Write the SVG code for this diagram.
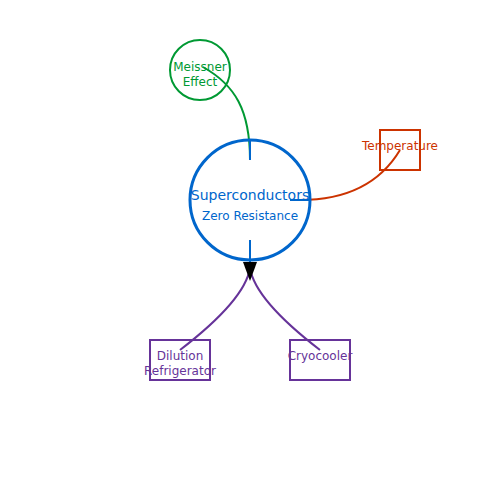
<svg xmlns="http://www.w3.org/2000/svg" width="500" height="500" viewBox="0 0 500 500">
<style>
text{font-family:"DejaVu Sans",sans-serif;text-anchor:middle;font-size:12px}
.c{fill:none;stroke-width:2}
</style>
<rect width="500" height="500" fill="#fff"/>
<g id="connectors" fill="none" stroke-width="2">
<path d="M203,67 C235,85 250,110 250,160" stroke="#009933"/>
<path d="M400,150 Q370,200 300,200" stroke="#cc3300"/>
<path d="M180,350 Q245,300 250,268" stroke="#663399"/>
<path d="M320,350 Q255,300 250,268" stroke="#663399"/>
<path d="M250,140 V160 M250,240 V262 M290,200 H310" stroke="#0066cc"/>
<polygon points="243,262 257,262 250,281" fill="#000" stroke="none"/>
</g>
<g id="superconductors">
<circle cx="250" cy="200" r="60" fill="none" stroke="#0066cc" stroke-width="3"/>
<text x="250" y="200" font-size="14" fill="#0066cc" style="font-size:14px">Superconductors</text>
<text x="250" y="220" fill="#0066cc">Zero Resistance</text>
</g>
<g id="meissner">
<circle cx="200" cy="70" r="30" class="c" stroke="#009933"/>
<text x="200" y="71" fill="#009933">Meissner</text>
<text x="200" y="86" fill="#009933">Effect</text>
</g>
<g id="temperature">
<rect x="380" y="130" width="40" height="40" class="c" stroke="#cc3300"/>
<text x="400" y="150" fill="#cc3300">Temperature</text>
</g>
<g id="dilution">
<rect x="150" y="340" width="60" height="40" class="c" stroke="#663399"/>
<text x="180" y="360" fill="#663399">Dilution</text>
<text x="180" y="375" fill="#663399">Refrigerator</text>
</g>
<g id="cryocooler">
<rect x="290" y="340" width="60" height="40" class="c" stroke="#663399"/>
<text x="320" y="360" fill="#663399">Cryocooler</text>
</g>
</svg>
